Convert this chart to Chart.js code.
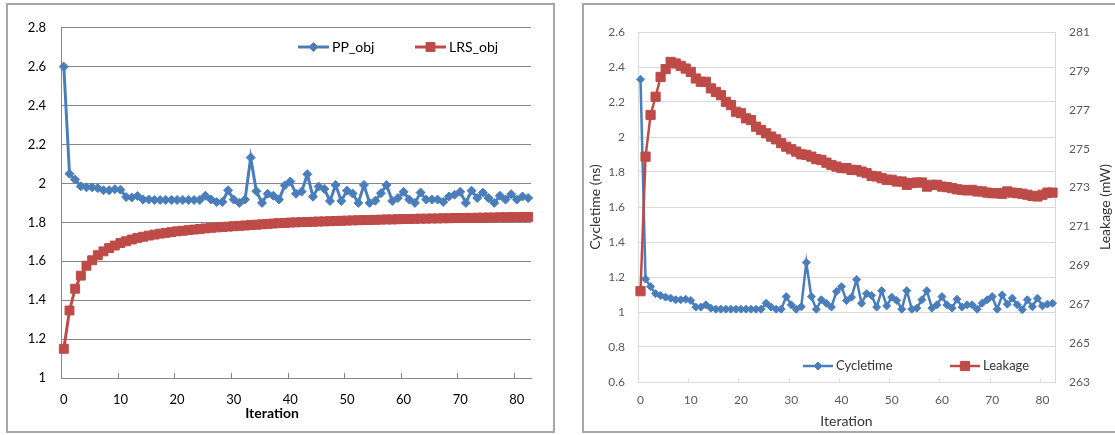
<!doctype html>
<html lang="en">
<head>
<meta charset="utf-8">
<title>Iteration charts</title>
<script src="https://cdn.jsdelivr.net/npm/chart.js"></script>
<style>
  html, body { margin: 0; background: #fff; overflow: hidden; }
  .panel { position: absolute; top: 3px; height: 426px; border: 2px solid #a6a6a6; background: #fff; }
  #left { left: 6px; width: 545px; }
  #right { left: 582px; width: 540px; }
  canvas { display: block; }
</style>
</head>
<body>
<div class="panel" id="left"><canvas id="objChart" width="545" height="426"></canvas></div>
<div class="panel" id="right"><canvas id="ctChart" width="540" height="426"></canvas></div>

<script>
const iterations = [
  0,1,2,3,4,5,6,7,8,9,10,11,12,13,14,15,16,17,18,19,20,21,22,23,24,25,26,27,28,29,
  30,31,32,33,34,35,36,37,38,39,40,41,42,43,44,45,46,47,48,49,50,51,52,53,54,55,56,
  57,58,59,60,61,62,63,64,65,66,67,68,69,70,71,72,73,74,75,76,77,78,79,80,81,82
];
const xTickLabels = [0, 10, 20, 30, 40, 50, 60, 70, 80];

// left chart
const ppObj = [
  2.60, 2.05, 2.02, 1.985, 1.98, 1.98, 1.976, 1.965, 1.965, 1.97,
  1.968, 1.93, 1.928, 1.935, 1.917, 1.917, 1.915, 1.915, 1.915, 1.915,
  1.915, 1.915, 1.915, 1.915, 1.915, 1.937, 1.917, 1.904, 1.905, 1.965,
  1.917, 1.90, 1.917, 2.133, 1.96, 1.90, 1.947, 1.937, 1.917, 1.99,
  2.01, 1.947, 1.958, 2.047, 1.932, 1.984, 1.972, 1.91, 1.992, 1.91,
  1.963, 1.948, 1.90, 1.992, 1.90, 1.911, 1.95, 1.992, 1.91, 1.925,
  1.957, 1.917, 1.90, 1.953, 1.917, 1.917, 1.917, 1.905, 1.933, 1.942,
  1.957, 1.90, 1.963, 1.925, 1.953, 1.925, 1.90, 1.937, 1.917, 1.945,
  1.917, 1.933, 1.925
];
const lrsObj = [
  1.15, 1.347, 1.459, 1.526, 1.577, 1.605, 1.631, 1.651, 1.668, 1.681,
  1.694, 1.703, 1.712, 1.72, 1.726, 1.732, 1.737, 1.742, 1.746, 1.75,
  1.754, 1.757, 1.76, 1.763, 1.766, 1.769, 1.772, 1.774, 1.776, 1.778,
  1.78, 1.782, 1.784, 1.786, 1.788, 1.79, 1.792, 1.794, 1.796, 1.797,
  1.799, 1.8, 1.801, 1.802, 1.803, 1.804, 1.805, 1.806, 1.807, 1.808,
  1.809, 1.81, 1.811, 1.812, 1.812, 1.813, 1.814, 1.815, 1.815, 1.816,
  1.817, 1.817, 1.818, 1.819, 1.819, 1.82, 1.82, 1.821, 1.821, 1.822,
  1.822, 1.823, 1.823, 1.824, 1.824, 1.825, 1.825, 1.826, 1.826, 1.827,
  1.827, 1.828, 1.828
];

// right chart
const cycletime = [
  2.33, 1.188, 1.145, 1.105, 1.094, 1.085, 1.079, 1.07, 1.07, 1.073,
  1.066, 1.028, 1.028, 1.041, 1.022, 1.016, 1.016, 1.016, 1.016, 1.016,
  1.016, 1.016, 1.016, 1.016, 1.016, 1.05, 1.028, 1.016, 1.016, 1.088,
  1.041, 1.016, 1.03, 1.283, 1.088, 1.016, 1.07, 1.05, 1.028, 1.117,
  1.145, 1.065, 1.085, 1.185, 1.05, 1.105, 1.094, 1.028, 1.122, 1.035,
  1.085, 1.066, 1.016, 1.122, 1.016, 1.022, 1.07, 1.122, 1.022, 1.041,
  1.088, 1.041, 1.022, 1.073, 1.028, 1.041, 1.041, 1.016, 1.05, 1.07,
  1.088, 1.016, 1.097, 1.045, 1.079, 1.041, 1.013, 1.07, 1.03, 1.079,
  1.035, 1.045, 1.05
];
const leakage = [
  267.67, 274.59, 276.73, 277.67, 278.69, 279.09, 279.46, 279.38, 279.26, 279.12,
  278.95, 278.61, 278.44, 278.44, 278.1, 277.92, 277.75, 277.41, 277.24, 276.9,
  276.82, 276.56, 276.47, 276.13, 275.96, 275.79, 275.62, 275.48, 275.28, 275.1,
  274.97, 274.85, 274.71, 274.68, 274.59, 274.46, 274.42, 274.28, 274.16, 274.08,
  274.0, 274.0, 273.91, 273.9, 273.82, 273.74, 273.6, 273.57, 273.48, 273.4,
  273.4, 273.31, 273.31, 273.14, 273.23, 273.26, 273.26, 273.05, 273.14, 273.14,
  273.05, 273.02, 272.97, 272.91, 272.88, 272.85, 272.88, 272.8, 272.8, 272.74,
  272.71, 272.71, 272.68, 272.8, 272.74, 272.71, 272.68, 272.63, 272.57, 272.54,
  272.63, 272.74, 272.74
];

const BLUE = '#4a7ebb';
const RED = '#be4b48';
const FONT = 'Lato, "Open Sans", sans-serif';

// legend drawn inside the plot area, excel style (line with marker)
const markerLegend = {
  id: 'markerLegend',
  afterDraw(chart, args, opts) {
    const ctx = chart.ctx;
    ctx.save();
    ctx.font = opts.font;
    ctx.textBaseline = 'middle';
    chart.data.datasets.forEach((ds, i) => {
      const x = opts.xs[i], y = opts.y;
      ctx.strokeStyle = ds.borderColor;
      ctx.fillStyle = ds.borderColor;
      ctx.lineWidth = ds.borderWidth;
      ctx.beginPath();
      ctx.moveTo(x, y);
      ctx.lineTo(x + opts.lineLen, y);
      ctx.stroke();
      ctx.lineWidth = ds.pointBorderWidth;
      Chart.helpers.drawPoint(ctx, {pointStyle: ds.pointStyle, radius: ds.pointRadius, rotation: 0, borderWidth: ds.pointBorderWidth}, x + opts.lineLen / 2, y);
      ctx.fillStyle = opts.color;
      ctx.fillText(ds.label, x + opts.lineLen + opts.gap, y);
    });
    ctx.restore();
  }
};

// tick marks pointing into the plot, between categories
const innerTicks = {
  id: 'innerTicks',
  afterDraw(chart, args, opts) {
    const sc = chart.scales.x;
    const ctx = chart.ctx;
    const half = (sc.getPixelForValue(1) - sc.getPixelForValue(0)) / 2;
    const bottom = chart.chartArea.bottom;
    ctx.save();
    ctx.strokeStyle = opts.color;
    ctx.lineWidth = 1;
    ctx.beginPath();
    iterations.forEach((it, i) => {
      if (!xTickLabels.includes(it) || i === 0) return;
      const px = Math.round(sc.getPixelForValue(i) - half) + 0.5;
      ctx.moveTo(px, bottom);
      ctx.lineTo(px, bottom - opts.len);
    });
    ctx.stroke();
    ctx.restore();
  }
};

// axis titles placed like excel does (off-centre, bottom-to-top on the right)
const axisTitles = {
  id: 'axisTitles',
  afterDraw(chart, args, opts) {
    const ctx = chart.ctx;
    const ca = chart.chartArea;
    (opts.items || []).forEach(t => {
      const sc = chart.scales[t.scale];
      let x, y;
      if (sc.isHorizontal()) {
        x = (ca.left + ca.right) / 2 + t.shift;
        y = sc.bottom - t.edge;
      } else {
        x = sc.right - t.edge;
        y = (ca.top + ca.bottom) / 2 + t.shift;
      }
      ctx.save();
      ctx.translate(x, y);
      ctx.rotate(t.vertical ? -Math.PI / 2 : 0);
      ctx.font = t.font;
      ctx.fillStyle = t.color;
      ctx.textAlign = 'center';
      ctx.textBaseline = 'middle';
      ctx.fillText(t.text, 0, 0);
      ctx.restore();
    });
  }
};

function xTicks(color, size, pad) {
  return {
    autoSkip: false,
    maxRotation: 0,
    padding: pad,
    color: color,
    font: {family: FONT, size: size},
    callback: function(val, i) {
      const lab = iterations[i];
      return xTickLabels.includes(lab) ? String(lab) : null;
    }
  };
}

function oneDecimal(v) {
  return String(+v.toFixed(1));
}

new Chart(document.getElementById('objChart'), {
  type: 'line',
  data: {
    labels: iterations,
    datasets: [
      {label: 'PP_obj', data: ppObj, borderColor: BLUE, backgroundColor: BLUE, borderWidth: 3,
       pointStyle: 'rectRot', pointRadius: 4.5, pointBorderWidth: 1, pointBackgroundColor: BLUE, pointBorderColor: BLUE, tension: 0},
      {label: 'LRS_obj', data: lrsObj, borderColor: RED, backgroundColor: RED, borderWidth: 3,
       pointStyle: 'rect', pointRadius: 6.3, pointBorderWidth: 1, pointBackgroundColor: RED, pointBorderColor: RED, tension: 0}
    ]
  },
  options: {
    responsive: false,
    animation: false,
    events: [],
    layout: {padding: {top: 17, right: 22, left: 0, bottom: 0}},
    scales: {
      x: {
        type: 'category',
        offset: true,
        grid: {display: false, offset: true, drawTicks: false},
        border: {display: true, color: '#868686', width: 1},
        ticks: xTicks('#000', 13, 14),
        afterFit: s => { s.height = 53; }
      },
      y: {
        min: 1, max: 2.8,
        ticks: {stepSize: 0.2, color: '#000', font: {family: FONT, size: 13}, padding: 15, callback: oneDecimal},
        grid: {color: '#868686', drawTicks: false},
        border: {display: true, color: '#868686'},
        afterFit: s => { s.width = 53; }
      }
    },
    plugins: {
      legend: {display: false},
      tooltip: {enabled: false},
      markerLegend: {xs: [290, 407], y: 42, lineLen: 31, gap: 3, font: '14px ' + FONT, color: '#000'},
      innerTicks: {color: '#868686', len: 5},
      axisTitles: {items: [
        {text: 'Iteration', scale: 'x', shift: -24, edge: 18, vertical: false, font: 'bold 14px ' + FONT, color: '#000'}
      ]}
    }
  },
  plugins: [markerLegend, innerTicks, axisTitles]
});

new Chart(document.getElementById('ctChart'), {
  type: 'line',
  data: {
    labels: iterations,
    datasets: [
      {label: 'Cycletime', data: cycletime, yAxisID: 'y', order: 1, borderColor: BLUE, backgroundColor: BLUE, borderWidth: 2.5,
       pointStyle: 'rectRot', pointRadius: 4, pointBorderWidth: 1, pointBackgroundColor: BLUE, pointBorderColor: BLUE, tension: 0},
      {label: 'Leakage', data: leakage, yAxisID: 'y1', order: 0, borderColor: RED, backgroundColor: RED, borderWidth: 2.5,
       pointStyle: 'rect', pointRadius: 6.5, pointBorderWidth: 1, pointBackgroundColor: RED, pointBorderColor: RED, tension: 0}
    ]
  },
  options: {
    responsive: false,
    animation: false,
    events: [],
    layout: {padding: {top: 27, right: 0, left: 0, bottom: 0}},
    scales: {
      x: {
        type: 'category',
        offset: true,
        grid: {display: false, offset: true, drawTicks: false},
        border: {display: true, color: '#d9d9d9', width: 1},
        ticks: xTicks('#595959', 12, 11),
        title: {display: true, text: 'Iteration', color: '#333', font: {family: FONT, size: 14}, padding: {top: 0, bottom: 1}},
        afterFit: s => { s.height = 49; }
      },
      y: {
        position: 'left',
        min: 0.6, max: 2.6,
        ticks: {stepSize: 0.2, color: '#595959', font: {family: FONT, size: 12}, padding: 13, callback: oneDecimal},
        grid: {color: '#d9d9d9', drawTicks: false},
        border: {display: true, color: '#d9d9d9'},
        title: {display: true, text: 'Cycletime (ns)', color: '#333', font: {family: FONT, size: 14}, padding: {top: 3, bottom: 0}},
        afterFit: s => { s.width = 54; }
      },
      y1: {
        position: 'right',
        min: 263, max: 281,
        ticks: {stepSize: 2, color: '#595959', font: {family: FONT, size: 12}, padding: 14},
        grid: {display: false, drawTicks: false},
        border: {display: true, color: '#d9d9d9'},
        afterFit: s => { s.width = 69; }
      }
    },
    plugins: {
      legend: {display: false},
      tooltip: {enabled: false},
      markerLegend: {xs: [219, 366], y: 361, lineLen: 30, gap: 3, font: '13px ' + FONT, color: '#333'},
      innerTicks: {color: '#d9d9d9', len: 3},
      axisTitles: {items: [
        {text: 'Leakage (mW)', scale: 'y1', shift: 0, edge: 19, vertical: true, font: '14px ' + FONT, color: '#333'}
      ]}
    }
  },
  plugins: [markerLegend, innerTicks, axisTitles]
});
</script>
</body>
</html>
